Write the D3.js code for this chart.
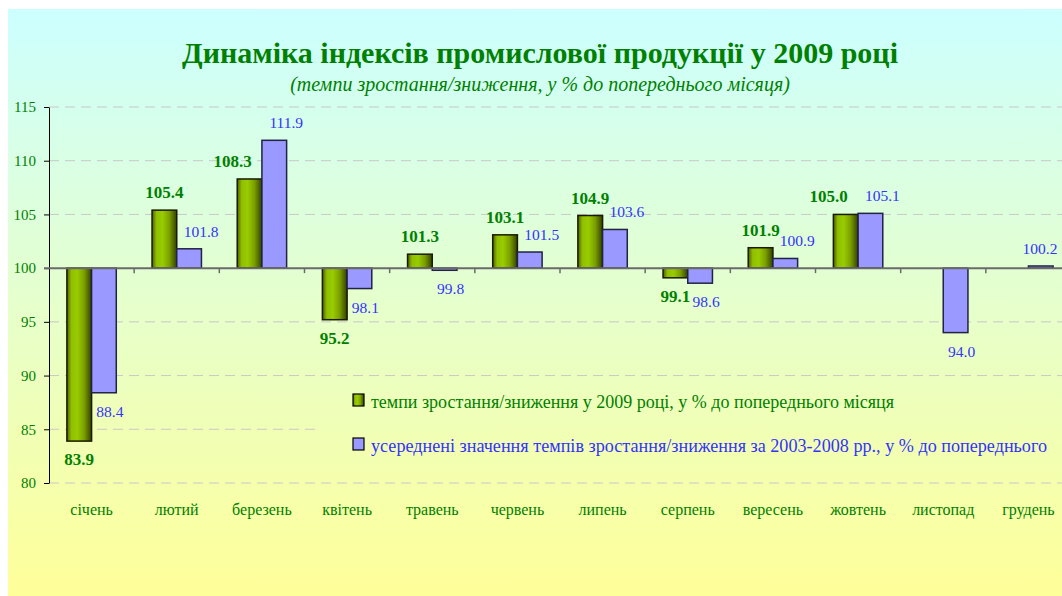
<!DOCTYPE html>
<html>
<head>
<meta charset="utf-8">
<script src="https://cdn.jsdelivr.net/npm/d3@7"></script>
<style>
	body { margin: 0; background: #fff; }
	svg { display: block; }
	text { font-family: "Times New Roman", "Liberation Serif", serif; }
</style>
</head>
<body>
<svg id="chart" width="1062" height="596"></svg>
<script>
const months = ['січень', 'лютий', 'березень', 'квітень', 'травень', 'червень',
	'липень', 'серпень', 'вересень', 'жовтень', 'листопад', 'грудень'];
const values2009 = [83.9, 105.4, 108.3, 95.2, 101.3, 103.1, 104.9, 99.1, 101.9, 105.0, null, null];
const valuesAvg = [88.4, 101.8, 111.9, 98.1, 99.8, 101.5, 103.6, 98.6, 100.9, 105.1, 94.0, 100.2];
const yTicks = [80, 85, 90, 95, 100, 105, 110, 115];
const seriesNames = [
	'темпи зростання/зниження у 2009 році, у % до попереднього місяця',
	'усереднені значення темпів зростання/зниження за 2003-2008 рр., у % до попереднього'
];
const title = 'Динаміка індексів промислової продукції у 2009 році';
const subtitle = '(темпи зростання/зниження, у % до попереднього місяця)';

const GREEN = '#008000';
const BLUE = '#3333ff';
const BASE = 100;

const $svg = d3.select('#chart');
const width = +$svg.attr('width');
const height = +$svg.attr('height');

const plot = { left: 49, right: 1071, top: 107, bottom: 483 };

const x = d3.scaleBand()
	.domain(months)
	.range([plot.left, plot.right])
	.paddingInner(0.42)
	.paddingOuter(0.21);

const xSub = d3.scaleBand()
	.domain(['y2009', 'avg'])
	.range([0, x.bandwidth()]);

const y = d3.scaleLinear()
	.domain([80, 115])
	.range([plot.bottom, plot.top]);

// gradients
const defs = $svg.append('defs');
const bg = defs.append('linearGradient')
	.attr('id', 'bg')
	.attr('gradientUnits', 'userSpaceOnUse')
	.attr('x1', 0).attr('y1', 9).attr('x2', 0).attr('y2', height);
bg.append('stop').attr('offset', 0).attr('stop-color', '#ccffff');
bg.append('stop').attr('offset', 1).attr('stop-color', '#ffff99');

const barGrad = defs.append('linearGradient')
	.attr('id', 'barGreen')
	.attr('x1', 0).attr('x2', 1).attr('y1', 0).attr('y2', 0);
[[0, '#4d5e00'], [0.18, '#8fbf00'], [0.42, '#99cc00'], [0.7, '#7a9f00'], [1, '#334000']]
	.forEach(([o, c]) => barGrad.append('stop').attr('offset', o).attr('stop-color', c));

// chart area
$svg.append('rect')
	.attr('x', 8).attr('y', 9)
	.attr('width', width).attr('height', height)
	.attr('fill', 'url(#bg)');

// grid
$svg.append('g')
	.selectAll('line')
	.data(yTicks.filter(d => d !== BASE))
	.join('line')
	.attr('x1', plot.left).attr('x2', plot.right)
	.attr('y1', d => y(d)).attr('y2', d => y(d))
	.attr('stroke', '#c8c8c8')
	.attr('stroke-dasharray', '10,6');

// legend box hides the grid behind it
const $legend = $svg.append('g');
$legend.append('rect')
	.attr('x', 320).attr('y', 385)
	.attr('width', 760).attr('height', 78)
	.attr('fill', 'url(#bg)');

const series = [
	{ key: 'y2009', values: values2009, fill: 'url(#barGreen)', stroke: '#1a1a00', color: GREEN, bold: true },
	{ key: 'avg', values: valuesAvg, fill: '#9999ff', stroke: '#222244', color: BLUE, bold: false }
];
series.forEach(s => {
	s.data = months.map((m, i) => ({ m, i, v: s.values[i] })).filter(d => d.v != null);
});

// bars
series.forEach(s => {
	$svg.append('g')
		.selectAll('rect')
		.data(s.data)
		.join('rect')
		.attr('x', d => x(d.m) + xSub(s.key))
		.attr('width', xSub.bandwidth())
		.attr('y', d => y(Math.max(d.v, BASE)))
		.attr('height', d => Math.max(Math.abs(y(d.v) - y(BASE)), 1.5))
		.attr('fill', s.fill)
		.attr('stroke', s.stroke)
		.attr('stroke-width', 1.5);
});

// value labels: green nudged left when the blue bar next to it is taller,
// blue nudged a little right as in the original
function labelX(s, d) {
	const cx = x(d.m) + xSub(s.key) + xSub.bandwidth() / 2;
	let dx = 0;
	if (s.key === 'y2009') {
		const other = valuesAvg[d.i];
		if (d.v >= BASE && other != null && other > d.v) dx = -17;
	} else {
		dx = d.v >= BASE ? 12 : 6;
	}
	return Math.min(cx + dx, width - 22);
}

series.forEach(s => {
	$svg.append('g')
		.selectAll('text')
		.data(s.data)
		.join('text')
		.attr('x', d => labelX(s, d))
		.attr('y', d => d.v >= BASE ? y(d.v) - 12 : y(d.v) + 24)
		.attr('text-anchor', 'middle')
		.attr('font-size', s.bold ? 17 : 15.5)
		.attr('font-weight', s.bold ? 'bold' : 'normal')
		.attr('fill', s.color)
		.text(d => d.v.toFixed(1));
});

// y axis
const yAxis = $svg.append('g')
	.attr('transform', `translate(${plot.left},0)`)
	.call(d3.axisLeft(y).tickValues(yTicks).tickSize(5).tickSizeOuter(0).tickPadding(8).tickFormat(d3.format('d')));
yAxis.select('.domain').attr('stroke', '#000');
yAxis.selectAll('.tick line').attr('stroke', '#000');
yAxis.selectAll('.tick text')
	.attr('font-family', '"Times New Roman", "Liberation Serif", serif')
	.attr('font-size', 15)
	.attr('fill', GREEN);

// base line at 100 with category ticks
const $base = $svg.append('g');
$base.append('line')
	.attr('x1', plot.left - 5).attr('x2', plot.right)
	.attr('y1', y(BASE)).attr('y2', y(BASE))
	.attr('stroke', '#6a6a6a')
	.attr('stroke-width', 2);
$base.selectAll('.tk')
	.data(months.slice(1))
	.join('line')
	.attr('class', 'tk')
	.attr('x1', (d, i) => plot.left + x.step() * (i + 1))
	.attr('x2', (d, i) => plot.left + x.step() * (i + 1))
	.attr('y1', y(BASE)).attr('y2', y(BASE) + 5)
	.attr('stroke', '#6a6a6a')
	.attr('stroke-width', 1.5);

// category labels
$svg.append('g')
	.selectAll('text')
	.data(months)
	.join('text')
	.attr('x', d => x(d) + x.bandwidth() / 2)
	.attr('y', 515)
	.attr('text-anchor', 'middle')
	.attr('font-size', 16)
	.attr('fill', GREEN)
	.text(d => d);

// legend
const legendItems = [
	{ name: seriesNames[0], fill: 'url(#barGreen)', color: GREEN, y: 408, len: 523 },
	{ name: seriesNames[1], fill: '#9999ff', color: BLUE, y: 452, len: 676 }
];
legendItems.forEach(it => {
	$legend.append('rect')
		.attr('x', 353).attr('y', it.y - 14)
		.attr('width', 11).attr('height', 12)
		.attr('fill', it.fill)
		.attr('stroke', '#000')
		.attr('stroke-width', 1.2);
	$legend.append('text')
		.attr('x', 371).attr('y', it.y)
		.attr('font-size', 18)
		.attr('fill', it.color)
		.attr('textLength', it.len)
		.attr('lengthAdjust', 'spacingAndGlyphs')
		.text(it.name);
});

// titles
$svg.append('text')
	.attr('x', 540).attr('y', 63)
	.attr('text-anchor', 'middle')
	.attr('font-size', 30)
	.attr('font-weight', 'bold')
	.attr('fill', GREEN)
	.text(title);

$svg.append('text')
	.attr('x', 540).attr('y', 91)
	.attr('text-anchor', 'middle')
	.attr('font-size', 20)
	.attr('font-style', 'italic')
	.attr('fill', GREEN)
	.text(subtitle);
</script>
</body>
</html>
